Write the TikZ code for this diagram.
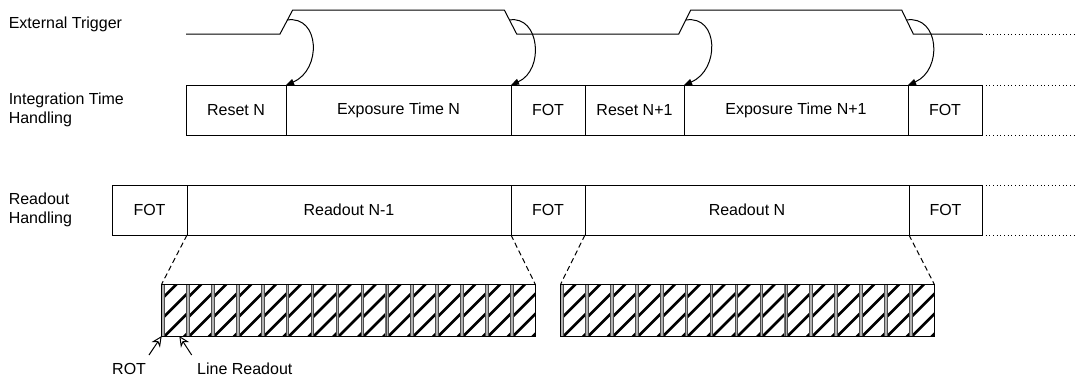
\documentclass[tikz,border=0pt]{standalone}
\usepackage{fontspec}
\setmainfont{Liberation Sans}
\usetikzlibrary{arrows.meta}

\tikzset{
  box/.style={draw, minimum height=37.5pt, inner sep=0pt, outer sep=0pt, anchor=west},
  rowtext/.style={align=left, inner sep=0pt, anchor=west},
  trig/.style={-{Triangle[length=6pt, width=4.5pt]}},
  zoomline/.style={dash pattern=on 4pt off 2.5pt},
  pointer/.style={-{Stealth[open, length=8pt, width=7.5pt, inset=2.5pt, fill=white]}},
  hatch/.style={line width=2pt},
  rotbar/.style={fill=gray!60, draw=black!70, line width=0.4pt},
}

\begin{document}
\begin{tikzpicture}[x=0.75pt, y=-0.75pt, line width=0.75pt,
    font=\fontsize{12}{14.25}\selectfont]
		
		\useasboundingbox (0,0) rectangle (1076,383);
		
		% Row labels
		\node[rowtext, anchor=base west] (trigtext) at (8.3,28.3) {External Trigger};
		\node[rowtext] (inttext) at (8.3,110) {Integration Time\\Handling};
		\node[rowtext] (readtext) at (8.3,210) {Readout\\Handling};
		
		% Trigger signal
		\draw (186,34) -- (280,34) -- (292.7,10) -- (504.3,10) -- (516.7,34)
		  -- (678.7,34) -- (690.7,10) -- (901.7,10) -- (913.3,34) -- (982,34);
		\draw[dotted] (982,34) -- (1074,34);
		\coordinate (rise1) at (287,20);
		\coordinate (fall1) at (509.5,20);
		\coordinate (rise2) at (686,20);
		\coordinate (fall2) at (906.5,20);
		
		% Integration time boxes
		\node[box, minimum width=75pt] (reset1) at (186,110) {Reset N};
		\node[box, minimum width=168.75pt] (expo1) at (286,110) {Exposure Time N};
		\node[box, minimum width=55.5pt] (fot1) at (511,110) {FOT};
		\node[box, minimum width=74.25pt] (reset2) at (585,110) {Reset N+1};
		\node[box, minimum width=168pt] (expo2) at (684,110) {Exposure Time N+1};
		\node[box, minimum width=55.5pt] (fot2) at (908,110) {FOT};
		\draw[dotted] (fot2.north east) -- ++(92,0);
		\draw[dotted] (fot2.south east) -- ++(92,0);
		
		% Readout boxes
		\node[box, minimum width=56.25pt] (rfot1) at (112,210) {FOT};
		\node[box, minimum width=243pt] (read1) at (187,210) {Readout N-1};
		\node[box, minimum width=55.5pt] (rfot2) at (511,210) {FOT};
		\node[box, minimum width=243pt] (read2) at (585,210) {Readout N};
		\node[box, minimum width=54.75pt] (rfot3) at (909,210) {FOT};
		\draw[dotted] (rfot3.north east) -- ++(92,0);
		\draw[dotted] (rfot3.south east) -- ++(92,0);
		
		% Trigger edges start the phases
		\draw[trig] (rise1) .. controls +(33,-5) and +(36,-15) .. (expo1.north west);
		\draw[trig] (fall1) .. controls +(30,-5) and +(34,-15) .. (fot1.north west);
		\draw[trig] (rise2) .. controls +(33,-5) and +(36,-15) .. (expo2.north west);
		\draw[trig] (fall2) .. controls +(33,-5) and +(35,-15) .. (fot2.north west);
		
		% Line readouts
		\foreach \gx/\gn in {161.7/lines1, 560.7/lines2} {
		  \foreach \i in {0,...,14} {
		    \pgfmathsetmacro\cx{\gx+\i*24.9}
		    \begin{scope}
		      \clip (\cx+2.5,284) rectangle (\cx+24.9,336);
		      \foreach \c in {15,35,55,75}
		        \draw[hatch] (\cx-10,294+\c) -- ++(\c+30,-\c-30);
		    \end{scope}
		    \draw[draw=black!55, line width=0.5pt] (\cx,284) rectangle (\cx+24.9,336);
		    \draw[rotbar] (\cx,284) rectangle (\cx+2.5,336);
		  }
		  \node[draw, minimum width=280.1pt, minimum height=39pt, inner sep=0pt,
		    outer sep=0pt, anchor=north west] (\gn) at (\gx,284) {};
		}
		\draw[zoomline] (read1.south west) -- (lines1.north west);
		\draw[zoomline] (read1.south east) -- (lines1.north east);
		\draw[zoomline] (read2.south west) -- (lines2.north west);
		\draw[zoomline] (read2.south east) -- (lines2.north east);
		
		% Pointers
		\node[rowtext, anchor=base west] (rot) at (111.7,374) {ROT};
		\node[rowtext, anchor=base west] (linetext) at (196.7,374) {Line Readout};
		\coordinate (rottail) at (149,355);
		\coordinate (linetail) at (191.7,355);
		\coordinate (rottip) at (161.7,336);
		\coordinate (linetip) at (179.3,336);
		\draw[pointer] (rottail) -- (rottip);
		\draw[pointer] (linetail) -- (linetip);
		
	\end{tikzpicture}
\end{document}
